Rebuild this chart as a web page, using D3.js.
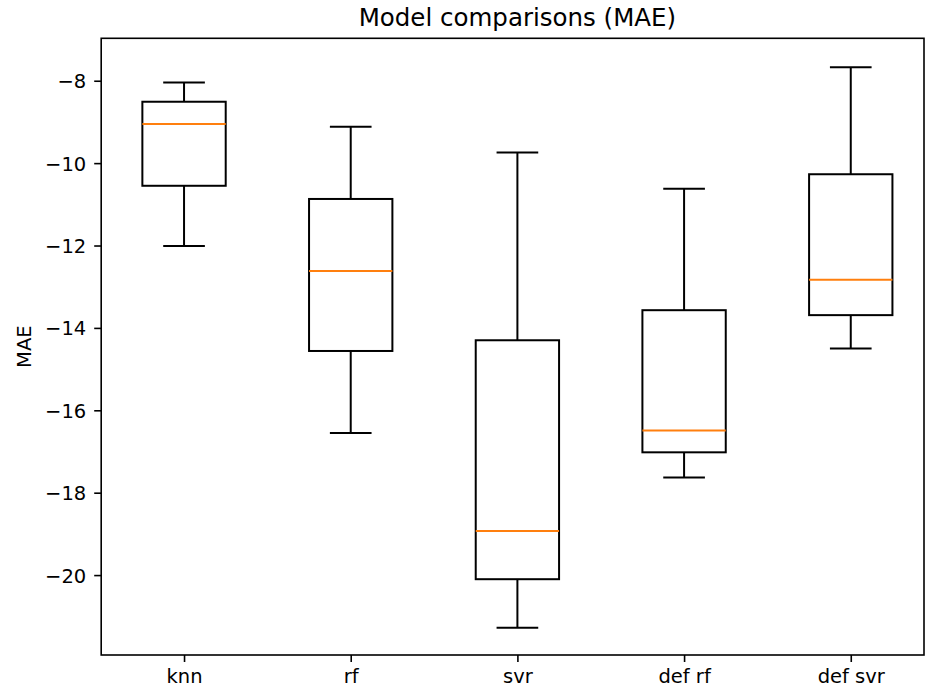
<!DOCTYPE html>
<html>
<head>
<meta charset="utf-8">
<script src="https://cdn.jsdelivr.net/npm/d3@7"></script>
<style>
  body { margin: 0; background: #fff; }
  svg { display: block; font-family: "DejaVu Sans", sans-serif; }
</style>
</head>
<body>
<div id="svgContainer"></div>
<script>
const categories = ['knn', 'rf', 'svr', 'def rf', 'def svr'];
const whiskerLow = [-12.01, -16.55, -21.28, -17.63, -14.50];
const q1 = [-10.55, -14.56, -20.10, -17.02, -13.69];
const median = [-9.05, -12.62, -18.93, -16.49, -12.83];
const q3 = [-8.51, -10.87, -14.30, -13.57, -10.27];
const whiskerHigh = [-8.04, -9.12, -9.74, -10.62, -7.67];
const yTicks = [-20, -18, -16, -14, -12, -10, -8];

const w = 925, h = 694;
const plotLeft = 100.7, plotRight = 934.1, plotTop = 38.3, plotBottom = 655;

const createChart = () => {
    const data = categories.map((c, i) => ({
        name: c, lo: whiskerLow[i], q1: q1[i], med: median[i], q3: q3[i], hi: whiskerHigh[i]
    }));

    const xScale = d3.scalePoint()
                    .domain(categories)
                    .range([plotLeft, plotRight])
                    .padding(0.5);
    const step = xScale.step();

    const yScale = d3.scaleLinear()
                    .domain([-21.94, -6.97])
                    .range([plotBottom, plotTop]);

    const svg = d3.select('#svgContainer')
                  .append('svg')
                  .attr('width', w)
                  .attr('height', h);

    const boxW = step * 0.5, capW = step * 0.25;

    const g = svg.selectAll('g.box')
        .data(data)
        .enter()
        .append('g')
        .attr('class', 'box')
        .attr('transform', d => 'translate(' + xScale(d.name) + ',0)');

    // whiskers
    g.append('line')
        .attr('x1', 0).attr('x2', 0)
        .attr('y1', d => yScale(d.q3)).attr('y2', d => yScale(d.hi))
        .attr('stroke', '#000').attr('stroke-width', 2);
    g.append('line')
        .attr('x1', 0).attr('x2', 0)
        .attr('y1', d => yScale(d.q1)).attr('y2', d => yScale(d.lo))
        .attr('stroke', '#000').attr('stroke-width', 2);

    // caps
    g.append('line')
        .attr('x1', -capW / 2).attr('x2', capW / 2)
        .attr('y1', d => yScale(d.hi)).attr('y2', d => yScale(d.hi))
        .attr('stroke', '#000').attr('stroke-width', 2);
    g.append('line')
        .attr('x1', -capW / 2).attr('x2', capW / 2)
        .attr('y1', d => yScale(d.lo)).attr('y2', d => yScale(d.lo))
        .attr('stroke', '#000').attr('stroke-width', 2);

    g.append('rect')
        .attr('x', -boxW / 2)
        .attr('width', boxW)
        .attr('y', d => yScale(d.q3))
        .attr('height', d => yScale(d.q1) - yScale(d.q3))
        .attr('fill', 'none')
        .attr('stroke', '#000')
        .attr('stroke-width', 2);

    g.append('line')
        .attr('x1', -boxW / 2).attr('x2', boxW / 2)
        .attr('y1', d => yScale(d.med)).attr('y2', d => yScale(d.med))
        .attr('stroke', '#ff7f0e').attr('stroke-width', 2);

    // frame
    svg.append('rect')
        .attr('x', plotLeft + 0.5)
        .attr('y', plotTop)
        .attr('width', 924 - plotLeft - 0.5)
        .attr('height', plotBottom - plotTop)
        .attr('fill', 'none')
        .attr('stroke', '#000')
        .attr('stroke-width', 1.6);

    const yAxis = d3.axisLeft(yScale)
                    .tickValues(yTicks)
                    .tickSize(7)
                    .tickPadding(8)
                    .tickFormat(d => String(d).replace('-', '\u2212'));

    const xAxis = d3.axisBottom(xScale)
                    .tickSize(7)
                    .tickPadding(7);

    svg.append('g')
        .attr('id', 'y-axis')
        .attr('transform', 'translate(' + (plotLeft + 0.5) + ',0)')
        .call(yAxis)
        .call(a => a.select('.domain').remove())
        .call(a => a.selectAll('line').attr('stroke-width', 1.6))
        .call(a => a.selectAll('text')
            .attr('font-size', 19.5)
            .attr('font-family', 'DejaVu Sans')
            .attr('fill', '#000')
            .attr('dy', '0.36em'));

    svg.append('g')
        .attr('id', 'x-axis')
        .attr('transform', 'translate(0,' + plotBottom + ')')
        .call(xAxis)
        .call(a => a.select('.domain').remove())
        .call(a => a.selectAll('line').attr('stroke-width', 1.6))
        .call(a => a.selectAll('text')
            .attr('font-size', 19.5)
            .attr('font-family', 'DejaVu Sans')
            .attr('fill', '#000'));

    svg.append('text')
        .attr('x', (plotLeft + plotRight) / 2)
        .attr('y', 26)
        .attr('text-anchor', 'middle')
        .attr('font-size', 24.5)
        .text('Model comparisons (MAE)');

    svg.append('text')
        .attr('transform', 'translate(31,' + (plotTop + plotBottom) / 2 + ') rotate(-90)')
        .attr('text-anchor', 'middle')
        .attr('font-size', 19.5)
        .text('MAE');
}

document.addEventListener('DOMContentLoaded', () => {
    createChart();
})
</script>
</body>
</html>
